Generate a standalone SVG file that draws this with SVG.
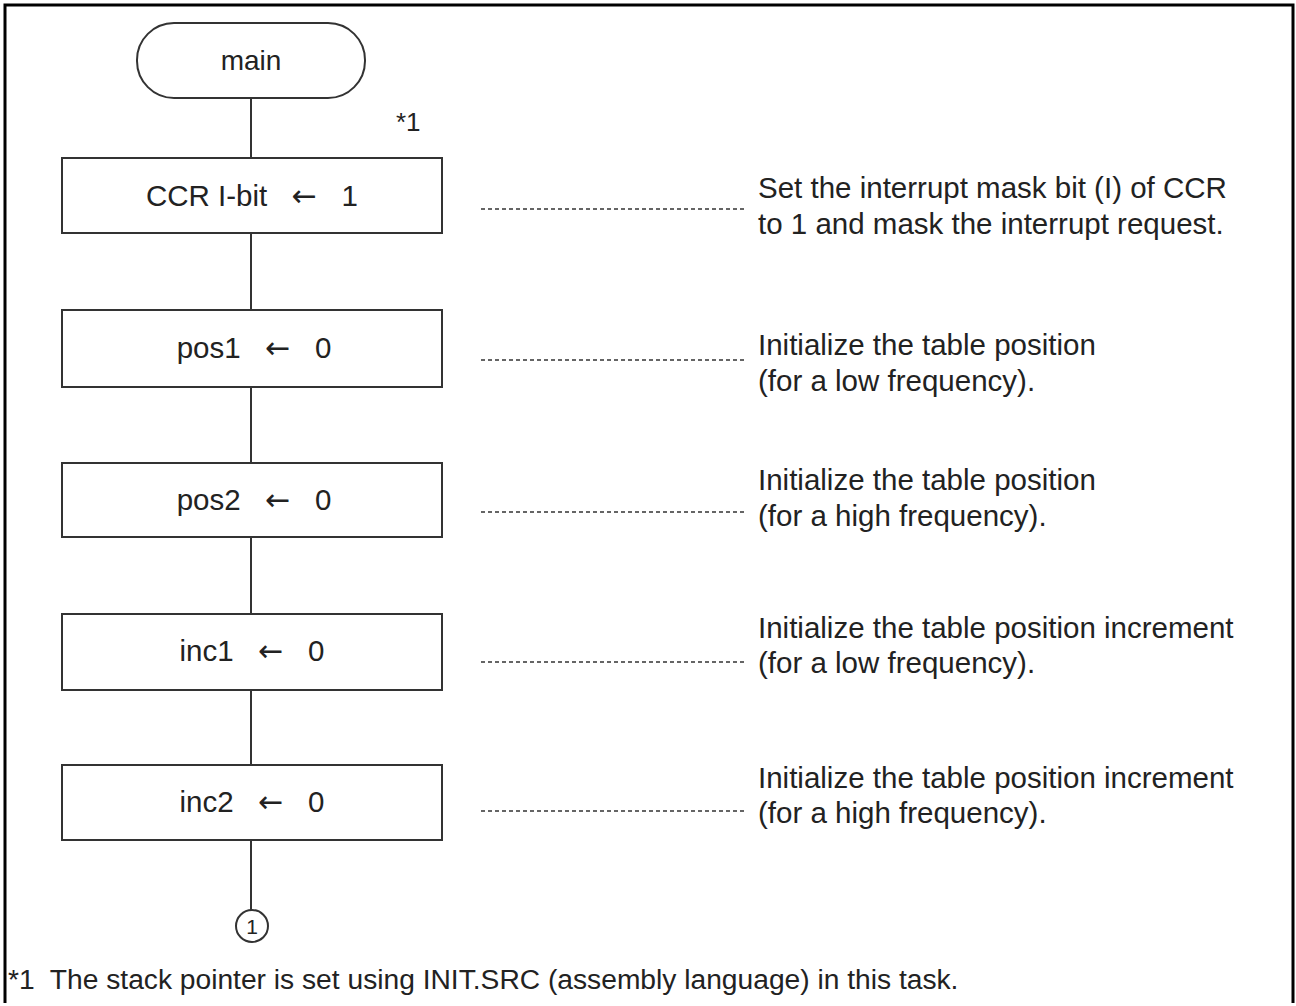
<svg xmlns="http://www.w3.org/2000/svg" width="1296" height="1006" viewBox="0 0 1296 1006">
<style>
.t{font-family:"Liberation Sans",Arial,sans-serif;font-size:29.5px;fill:#222}
.m{font-size:28px}
.s{font-size:26px}
.n{font-size:21px}
.f{font-size:28.2px}
.c{text-anchor:middle}
.ar{font-family:"DejaVu Sans",sans-serif;font-size:30px}
.box{fill:#fff;stroke:#333;stroke-width:2}
.ln{stroke:#333;stroke-width:2;fill:none}
.dash{stroke:#333;stroke-width:1.4;stroke-dasharray:4 3;fill:none}
</style>
<rect width="1296" height="1006" fill="#fff"/>
<path d="M5,1003 V5 H1293 V1003" fill="none" stroke="#000" stroke-width="3"/>
<g id="connectors">
<line class="ln" x1="251" y1="98" x2="251" y2="910"/>
<line class="dash" x1="481" y1="209" x2="745" y2="209"/>
<line class="dash" x1="481" y1="360" x2="745" y2="360"/>
<line class="dash" x1="481" y1="512" x2="745" y2="512"/>
<line class="dash" x1="481" y1="662" x2="745" y2="662"/>
<line class="dash" x1="481" y1="811" x2="745" y2="811"/>
</g>
<g id="start">
<rect class="box" x="137" y="23" width="228" height="75" rx="37" ry="37"/>
<text class="t m c" x="251" y="70">main</text>
</g>
<text class="t s" x="396" y="131">*1</text>
<g id="n1">
<rect class="box" x="62" y="158" width="380" height="75"/>
<text class="t c" x="252" y="206" xml:space="preserve">CCR I-bit   <tspan class="ar">←</tspan>   1</text>
</g>
<g id="n2">
<rect class="box" x="62" y="310" width="380" height="77"/>
<text class="t c" x="254" y="358" xml:space="preserve">pos1   <tspan class="ar">←</tspan>   0</text>
</g>
<g id="n3">
<rect class="box" x="62" y="463" width="380" height="74"/>
<text class="t c" x="254" y="510" xml:space="preserve">pos2   <tspan class="ar">←</tspan>   0</text>
</g>
<g id="n4">
<rect class="box" x="62" y="614" width="380" height="76"/>
<text class="t c" x="252" y="661" xml:space="preserve">inc1   <tspan class="ar">←</tspan>   0</text>
</g>
<g id="n5">
<rect class="box" x="62" y="765" width="380" height="75"/>
<text class="t c" x="252" y="812" xml:space="preserve">inc2   <tspan class="ar">←</tspan>   0</text>
</g>
<g id="c1">
<circle class="box" cx="252" cy="926" r="16"/>
<text class="t n c" x="252" y="933.5">1</text>
</g>
<g id="notes">
<text class="t" x="758" y="198">Set the interrupt mask bit (I) of CCR</text>
<text class="t" x="758" y="234">to 1 and mask the interrupt request.</text>
<text class="t" x="758" y="355">Initialize the table position</text>
<text class="t" x="758" y="391">(for a low frequency).</text>
<text class="t" x="758" y="490">Initialize the table position</text>
<text class="t" x="758" y="526">(for a high frequency).</text>
<text class="t" x="758" y="638">Initialize the table position increment</text>
<text class="t" x="758" y="673">(for a low frequency).</text>
<text class="t" x="758" y="788">Initialize the table position increment</text>
<text class="t" x="758" y="823">(for a high frequency).</text>
</g>
<text class="t f" x="8" y="989" xml:space="preserve">*1  The stack pointer is set using INIT.SRC (assembly language) in this task.</text>
</svg>
